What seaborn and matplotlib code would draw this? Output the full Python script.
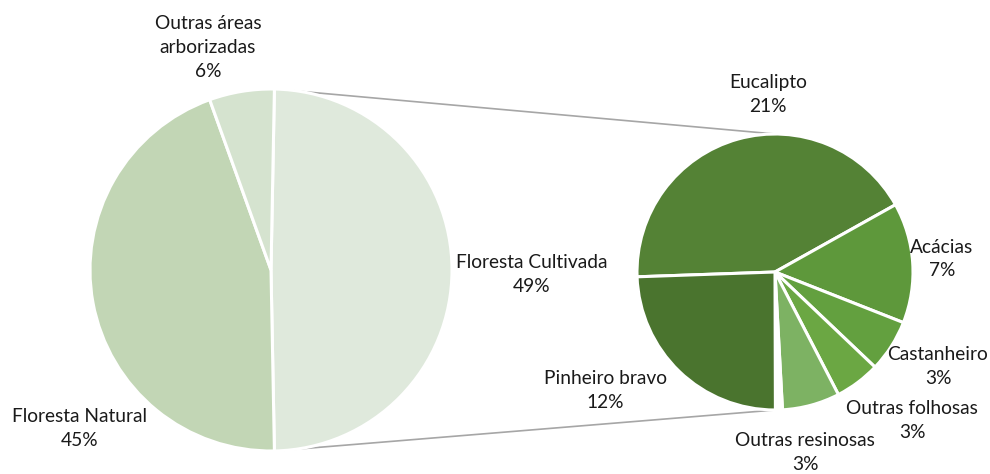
import numpy as np
import matplotlib.pyplot as plt
import seaborn as sns

# main pie
main_labels = ["Floresta Cultivada", "Floresta Natural", "Outras áreas\narborizadas"]
main_values = [49.4, 44.8, 5.8]
main_text = ["49%", "45%", "6%"]
main_colors = ["#dfe9dc", "#c2d6b5", "#d5e3cf"]

# breakdown of Floresta Cultivada
sub_labels = ["Eucalipto", "Acácias", "Castanheiro", "Outras folhosas",
              "Outras resinosas", "", "Pinheiro bravo"]
sub_values = [20.8, 6.9, 3.0, 2.6, 3.3, 0.4, 12.0]
sub_text = ["21%", "7%", "3%", "3%", "3%", "", "12%"]
sub_colors = ["#548235", "#5e983b", "#63a03f", "#6ba743", "#7db263", "#ffffff", "#4a742e"]

W, H = 990, 474
sns.set_theme(style="white")
plt.rcParams["font.family"] = ["Lato", "DejaVu Sans"]

fig = plt.figure(figsize=(W / 100, H / 100), dpi=100)
ax = fig.add_axes([0, 0, 1, 1])

c1, r1 = (271, H - 270), 181
c2, r2 = (775, H - 272), 138

wedge_kw = dict(edgecolor="white", linewidth=2.2)
# the split-off slice is centred on the right, as in a pie-of-pie
main_span = 360 * main_values[0] / sum(main_values)
ax.pie(main_values, colors=main_colors, startangle=main_span / 2, counterclock=False,
       center=c1, radius=r1, wedgeprops=wedge_kw, frame=True)
ax.pie(sub_values, colors=sub_colors, startangle=182, counterclock=False,
       center=c2, radius=r2, wedgeprops=wedge_kw, frame=True)
ax.set_xlim(0, W)
ax.set_ylim(0, H)
ax.set_aspect("equal")
ax.axis("off")

# connector lines from the split edges of the main pie to the second pie
a_top = np.deg2rad(main_span / 2)
a_bot = np.deg2rad(-main_span / 2)
p1 = (c1[0] + r1 * np.cos(a_top), c1[1] + r1 * np.sin(a_top))
p2 = (c1[0] + r1 * np.cos(a_bot), c1[1] + r1 * np.sin(a_bot))
ax.plot([p1[0], c2[0]], [p1[1], c2[1] + r2], color="#a6a6a6", lw=1.2, zorder=0)
ax.plot([p2[0], c2[0]], [p2[1], c2[1] - r2], color="#a6a6a6", lw=1.2, zorder=0)

fs = 13.8
ls = 1.5
main_pos = [(532, 274), (80, 429), (208, 47)]
for lab, t, (x, y) in zip(main_labels, main_text, main_pos):
    ax.text(x, H - y, f"{lab}\n{t}", ha="center", va="center", fontsize=fs,
            color="#1a1a1a", linespacing=ls)

sub_pos = [(768, 94), (942, 259), (938, 367), (912, 420), (805, 452), None, (605, 391)]
for lab, t, pos in zip(sub_labels, sub_text, sub_pos):
    if pos is None:
        continue
    ax.text(pos[0], H - pos[1], f"{lab}\n{t}", ha="center", va="center", fontsize=fs,
            color="#1a1a1a", linespacing=ls)

fig.savefig("out.png", dpi=100, facecolor="white")
